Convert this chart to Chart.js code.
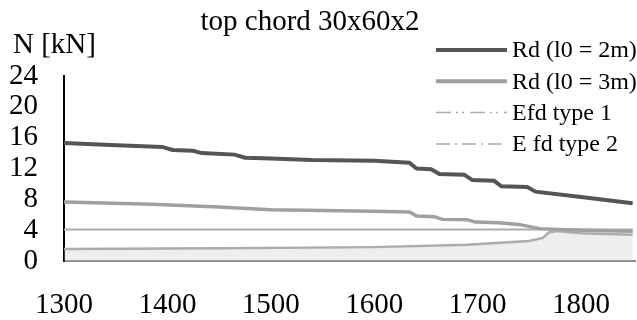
<!DOCTYPE html>
<html>
<head>
<meta charset="utf-8">
<script src="https://cdn.jsdelivr.net/npm/chart.js@4.4.1/dist/chart.umd.min.js"></script>
<style>
    body { margin: 0; background: #fff; }
</style>
</head>
<body>
<canvas id="chordChart" width="637" height="320"></canvas>
<script>
// chart texts
const titleText = 'top chord 30x60x2';
const yTitle = 'N [kN]';
const seriesLabels = ['Rd (l0 = 2m)', 'Rd (l0 = 3m)', 'Efd type 1', 'E fd type 2'];

// tick labels
const xTicks = [1300, 1400, 1500, 1600, 1700, 1800];
const yTicks = [0, 4, 8, 12, 16, 20, 24];

// Rd (l0 = 2m)
const rd2X = [1300, 1345, 1395, 1405, 1425, 1433, 1465, 1475, 1500, 1520, 1540, 1600, 1634, 1641, 1655, 1663, 1687, 1695, 1716, 1723, 1748, 1756, 1800, 1850];
const rd2Y = [15.3, 15.05, 14.8, 14.4, 14.3, 14.0, 13.8, 13.4, 13.3, 13.2, 13.1, 13.0, 12.75, 12.0, 11.9, 11.3, 11.2, 10.5, 10.4, 9.7, 9.6, 9.0, 8.3, 7.5];

// Rd (l0 = 3m)
const rd3X = [1300, 1385, 1450, 1500, 1600, 1634, 1641, 1658, 1666, 1690, 1698, 1720, 1740, 1760, 1800, 1850];
const rd3Y = [7.65, 7.35, 7.0, 6.65, 6.45, 6.35, 5.85, 5.75, 5.4, 5.35, 5.05, 4.95, 4.75, 4.2, 4.0, 3.85];

// Efd type 1
const efd1X = [1300, 1850];
const efd1Y = [4.1, 4.1];

// E fd type 2
const efd2X = [1300, 1450, 1600, 1690, 1750, 1763, 1769, 1776, 1800, 1850];
const efd2Y = [1.55, 1.65, 1.8, 2.1, 2.6, 3.0, 3.7, 3.9, 3.6, 3.4];

function toPoints(xs, ys) {
    return xs.map((x, i) => ({ x: x, y: ys[i] }));
}

const serif = '"Liberation Serif", "DejaVu Serif", serif';

// title, axis name and the legend inside the plot
const textPlugin = {
    id: 'textPlugin',
    afterDraw(chart) {
        const ctx = chart.ctx;
        ctx.save();
        ctx.fillStyle = '#000';
        ctx.textBaseline = 'alphabetic';
        ctx.font = '29px ' + serif;
        ctx.textAlign = 'center';
        ctx.fillText(titleText, 310, 30);
        ctx.textAlign = 'left';
        ctx.font = '29px ' + serif;
        ctx.fillText(yTitle, 13, 53);

        ctx.font = '24px ' + serif;
        ctx.textBaseline = 'middle';
        chart.data.datasets.forEach(function (ds, i) {
            const y = 50 + i * 31.3;
            ctx.beginPath();
            ctx.strokeStyle = ds.borderColor;
            ctx.lineWidth = ds.legendWidth;
            ctx.setLineDash(ds.legendDash);
            ctx.moveTo(436, y);
            ctx.lineTo(507, y);
            ctx.stroke();
            ctx.setLineDash([]);
            ctx.fillText(ds.label, 512, y + 1);
        });
        ctx.restore();
    }
};

const ctx = document.getElementById('chordChart').getContext('2d');

const chordChart = new Chart(ctx, {
    type: 'line',
    data: {
        datasets: [{
            label: seriesLabels[0],
            data: toPoints(rd2X, rd2Y),
            borderColor: '#555555',
            borderWidth: 4,
            legendWidth: 4,
            legendDash: []
        },
        {
            label: seriesLabels[1],
            data: toPoints(rd3X, rd3Y),
            borderColor: '#a0a0a0',
            borderWidth: 3.5,
            legendWidth: 4,
            legendDash: []
        },
        {
            label: seriesLabels[2],
            data: toPoints(efd1X, efd1Y),
            borderColor: '#acacac',
            borderWidth: 2,
            legendWidth: 1.5,
            legendDash: [15, 5, 2, 4, 2, 6]
        },
        {
            label: seriesLabels[3],
            data: toPoints(efd2X, efd2Y),
            borderColor: '#acacac',
            borderWidth: 2.5,
            fill: 'origin',
            backgroundColor: 'rgba(200,200,200,0.3)',
            legendWidth: 1.5,
            legendDash: [14, 5, 2, 5]
        }]
    },
    options: {
        responsive: false,
        animation: false,
        devicePixelRatio: 1,
        layout: {
            padding: { top: 76, right: 0, bottom: 0, left: 0 }
        },
        elements: {
            point: { radius: 0 },
            line: { tension: 0 }
        },
        scales: {
            x: {
                type: 'linear',
                min: 1300,
                max: 1853,
                grid: { display: false, drawTicks: false },
                border: { display: true, color: '#8a8a8a', width: 2 },
                afterBuildTicks: function (scale) {
                    scale.ticks = xTicks.map(v => ({ value: v }));
                },
                afterFit: function (scale) {
                    scale.height = 59;
                },
                ticks: {
                    autoSkip: false,
                    maxRotation: 0,
                    padding: 27,
                    color: '#000',
                    font: { family: serif, size: 29 },
                    callback: function (value) {
                        return String(value);
                    }
                }
            },
            y: {
                min: 0,
                max: 24,
                grid: { display: false, drawTicks: false },
                border: { display: true, color: '#000', width: 2 },
                afterBuildTicks: function (scale) {
                    scale.ticks = yTicks.map(v => ({ value: v }));
                },
                afterFit: function (scale) {
                    scale.width = 64;
                },
                ticks: {
                    autoSkip: false,
                    padding: 26,
                    color: '#000',
                    font: { family: serif, size: 29, lineHeight: 1 }
                }
            }
        },
        plugins: {
            legend: { display: false },
            title: { display: false },
            tooltip: { enabled: false }
        }
    },
    plugins: [textPlugin]
});
</script>
</body>
</html>
